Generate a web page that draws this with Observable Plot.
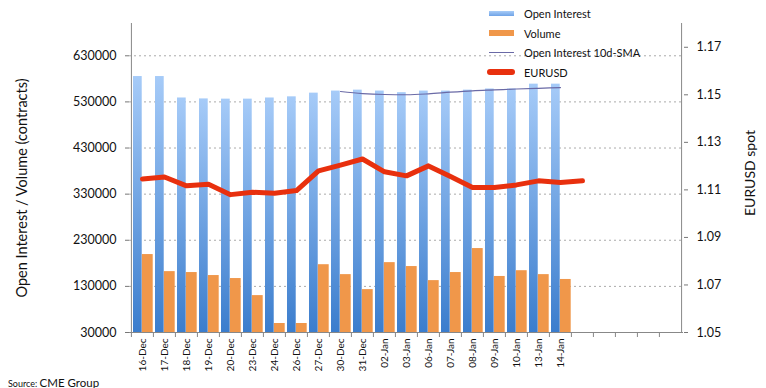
<!DOCTYPE html>
<html>
<head>
<meta charset="utf-8">
<script src="https://cdn.jsdelivr.net/npm/d3@7"></script>
<script src="https://cdn.jsdelivr.net/npm/@observablehq/plot@0.6"></script>
<style>
  body { margin: 0; background: #fff; font-family: Lato, "Open Sans", sans-serif; }
  #wrap { position: relative; width: 766px; height: 388px; }
  #legend { position: absolute; left: 487px; top: 4px; font-size: 11px; color: #111; }
  .li { display: flex; align-items: center; height: 19.5px; }
  .sw { width: 28px; height: 6px; margin-right: 9px; }
  #source { position: absolute; left: 8px; top: 371px; color: #111; }
</style>
</head>
<body>
<div id="wrap">
  <div id="chart"></div>
  <div id="legend">
    <div class="li"><div class="sw" style="height:5px;background:linear-gradient(#a8ccf8,#6fa3e6);width:25px;margin-left:2px;margin-right:10px"></div>Open Interest</div>
    <div class="li"><div class="sw" style="height:6px;background:#f0974a;width:25px;margin-left:2px;margin-right:10px"></div>Volume</div>
    <div class="li"><div class="sw" style="height:1px;background:#6a6aa6;width:25px;margin-left:2px;margin-right:10px"></div>Open Interest 10d-SMA</div>
    <div class="li"><div class="sw" style="height:6px;border-radius:3px;background:#e8300e;width:28px;margin-right:9px"></div>EURUSD</div>
  </div>
  <div id="source"><span style="font-size:9px">Source: </span><span style="font-size:11.5px">CME Group</span></div>
</div>
<script>
const dates = ["16-Dec","17-Dec","18-Dec","19-Dec","20-Dec","23-Dec","24-Dec","26-Dec","27-Dec","30-Dec",
               "31-Dec","02-Jan","03-Jan","06-Jan","07-Jan","08-Jan","09-Jan","10-Jan","13-Jan","14-Jan"];
const blankSlots = [" ", "  ", "   ", "    ", "     "];
const openInterest = [585000,585000,538500,536500,536000,536000,538500,541000,549000,553500,
                      555500,553500,550000,553500,553500,555500,558000,558000,568500,568500];
const volume = [199000,162000,160000,153500,147000,110000,49500,49500,177000,155500,
                123000,181500,173000,142500,160000,212000,151500,164000,155500,145000];
const smaDates = ["30-Dec","31-Dec","02-Jan","03-Jan","06-Jan","07-Jan","08-Jan","09-Jan","10-Jan","13-Jan","14-Jan"];
const smaValues = [552500,548000,546000,545500,547500,551000,554000,556000,558000,559500,561000];
const eurusdDates = [...dates, blankSlots[0]];
const eurusd = [1.1146,1.1154,1.1117,1.1124,1.1080,1.1090,1.1086,1.1097,1.1180,1.1204,
                1.1230,1.1176,1.1159,1.1201,1.1156,1.1110,1.1110,1.1121,1.1138,1.1131,1.1138];
const leftTicks = [30000,130000,230000,330000,430000,530000,630000];
const rightTicks = [1.05,1.07,1.09,1.11,1.13,1.15,1.17];

const leftDomain = [30000, 700000];
const rightDomain = [1.05, 1.18];
const toLeft = d3.scaleLinear().domain(rightDomain).range(leftDomain);

const xDomain = [...dates, ...blankSlots];
const bars = dates.map((d, i) => ({date: d, oi: openInterest[i], vol: volume[i]}));
const sma = smaDates.map((d, i) => ({date: d, v: smaValues[i]}));
const fx = eurusdDates.map((d, i) => ({date: d, v: toLeft(eurusd[i])}));

const W = 766, H = 388, ml = 129, mr = 83, mt = 23, mb = 56;
const bw = (W - ml - mr) / xDomain.length;

const chart = Plot.plot({
  width: W, height: H,
  marginLeft: ml, marginRight: mr, marginTop: mt, marginBottom: mb,
  style: {fontFamily: "Lato, 'Open Sans', sans-serif", color: "#111", background: "#fff"},
  x: {type: "band", domain: xDomain, padding: 0, axis: null},
  y: {domain: leftDomain, axis: null},
  marks: [
    () => {
      const defs = d3.create("svg:defs");
      const g = defs.append("linearGradient").attr("id", "oiGrad").attr("x1", 0).attr("y1", 0).attr("x2", 0).attr("y2", 1);
      g.append("stop").attr("offset", "0%").attr("stop-color", "#a6cbf8");
      g.append("stop").attr("offset", "100%").attr("stop-color", "#3b7dcd");
      return defs.node();
    },
    Plot.ruleY(leftTicks.slice(1), {stroke: "#aaa", strokeDasharray: "2,3", strokeWidth: 1}),
    Plot.barY(bars, {x: "date", y1: leftDomain[0], y2: "oi", fill: "url(#oiGrad)", insetLeft: 2, insetRight: bw / 2 + 0.2}),
    Plot.barY(bars, {x: "date", y1: leftDomain[0], y2: "vol", fill: "#f0974a", insetLeft: bw / 2 - 0.2, insetRight: 0.3}),
    Plot.line(sma, {x: "date", y: "v", stroke: "#6a6aa6", strokeWidth: 1.2, curve: "monotone-x"}),
    Plot.line(fx, {x: "date", y: "v", stroke: "#e8300e", strokeWidth: 5, strokeLinejoin: "round", strokeLinecap: "round"}),
    // left axis
    Plot.axisY(leftTicks, {anchor: "left", tickSize: 4, tickPadding: 9, fontSize: 12.5, stroke: "#777",
      tickFormat: d => String(d), label: null}),
    Plot.ruleX([xDomain[0]], {dx: -bw / 2, y1: leftDomain[0], y2: leftDomain[1], stroke: "#888"}),
    // right axis
    Plot.axisY(rightTicks.map(toLeft), {anchor: "right", tickSize: 4, tickPadding: 9, fontSize: 12.5, stroke: "#777",
      tickFormat: d => toLeft.invert(d).toFixed(2), label: null}),
    Plot.ruleX([xDomain[xDomain.length - 1]], {dx: bw / 2, y1: leftDomain[0], y2: leftDomain[1], stroke: "#888"}),
    // bottom axis
    Plot.ruleY([leftDomain[0]], {stroke: "#888"}),
    Plot.axisX(xDomain, {anchor: "bottom", tickSize: 5, tickFormat: () => "", dx: -bw / 2, stroke: "#888", label: null}),
    Plot.axisX(dates, {anchor: "bottom", tickSize: 0, tickPadding: 6, tickRotate: -90, fontSize: 10, label: null}),
    // axis titles
    Plot.text(["Open Interest / Volume (contracts)"], {frameAnchor: "left", textAnchor: "middle", dx: -107, dy: 10, rotate: -90, fontSize: 14.5, fill: "#111"}),
    Plot.text(["EURUSD spot"], {frameAnchor: "right", textAnchor: "middle", dx: 67, dy: -5, rotate: -90, fontSize: 14, fill: "#111"})
  ]
});
document.getElementById("chart").appendChild(chart);
</script>
</body>
</html>
